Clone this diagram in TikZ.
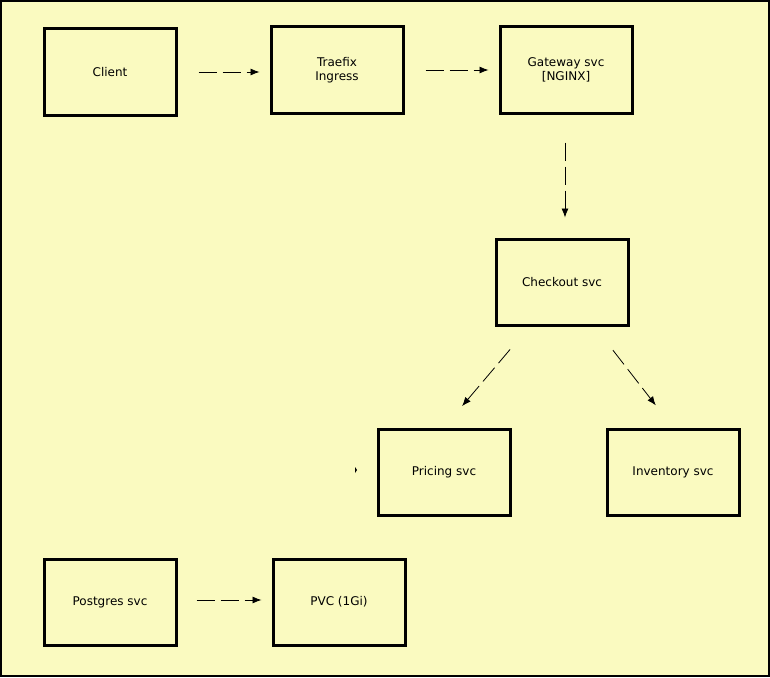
\documentclass[tikz,border=0pt]{standalone}
\usepackage{fontspec}
\setmainfont{DejaVu Sans}
\usetikzlibrary{arrows.meta}
\definecolor{bg}{HTML}{FAFAC0}
\begin{document}
\begin{tikzpicture}[x=1pt,y=-1pt,
  box/.style={draw=black,line width=3pt,fill=bg,minimum width=132pt,minimum height=86pt,inner sep=0pt,align=center,font=\fontsize{12}{14}\selectfont},
  arr/.style={draw=black,line width=0.8pt,dash pattern=on 18pt off 6pt,-{Latex[length=9pt,width=7pt]}}]
\path[fill=bg,draw=black,line width=2pt] (1,1) rectangle (769,676);
\useasboundingbox (0,0) rectangle (770,677);
\node[box] (client) at (110,72) {Client};
\node[box] (traefix) at (337,70) {Traefix\\Ingress};
\node[box] (gateway) at (566,70) {Gateway svc\\{[NGINX]}};
\node[box] (checkout) at (562,282) {Checkout svc};
\node[box] (pricing) at (444,472) {Pricing svc};
\node[box] (inventory) at (673,472) {Inventory svc};
\node[box] (postgres) at (110,602) {Postgres svc};
\node[box] (pvc) at (339,602) {PVC (1Gi)};
\draw[arr,shorten <=21pt,shorten >=10pt] (client.east|-0,72) -- (traefix.west|-0,72);
\draw[arr,shorten <=21pt,shorten >=10pt] (traefix.east) -- (gateway.west);
\draw[arr,shorten <=28pt,shorten >=20pt] (gateway.south-|565,0) -- (checkout.north-|565,0);
\draw[arr,shorten <=30pt,shorten >=28pt] (checkout.south west) ++(35,0) coordinate (c1) (c1) -- (pricing.north);
\draw[arr,shorten <=30pt,shorten >=28pt] (checkout.south east) ++(-35,0) coordinate (c2) (c2) -- (inventory.north);
\draw[arr,shorten <=19pt,shorten >=10pt] (postgres.east|-0,600) -- (pvc.west|-0,600);
\coordinate (tick) at (357,470);
\fill (tick) -- ++(-2,-3) -- ++(0,6) -- cycle;
\end{tikzpicture}
\end{document}
